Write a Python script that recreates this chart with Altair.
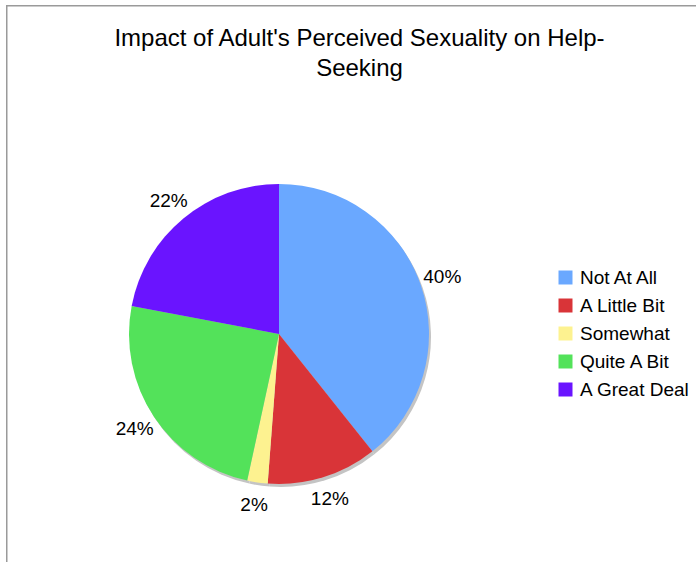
import altair as alt
import pandas as pd

categories = ["Not At All", "A Little Bit", "Somewhat", "Quite A Bit", "A Great Deal"]
values = [39.3, 11.9, 2.2, 24.6, 22.0]
labels = ["40%", "12%", "2%", "24%", "22%"]
colors = ["#6aa8ff", "#d93438", "#fdf290", "#53e25a", "#6a14ff"]
title_lines = ["Impact of Adult's Perceived Sexuality on Help-", "Seeking"]

FONT = "Liberation Sans"
W, H = 690, 557
CX, CY = 273, 329
R = 150

df = pd.DataFrame({
    "category": categories,
    "value": values,
    "label": labels,
    "order": list(range(len(categories))),
})
one = pd.DataFrame({"k": [0]})

base = alt.Chart(df)
theta = alt.Theta("value:Q", stack=True)
order = alt.Order("order:Q")

shadow = base.mark_arc(outerRadius=R, color="#c4c4c4").encode(
    theta=theta, order=order, x=alt.value(CX + 2), y=alt.value(CY + 3)
)

pie = base.mark_arc(outerRadius=R).encode(
    theta=theta,
    order=order,
    x=alt.value(CX),
    y=alt.value(CY),
    color=alt.Color(
        "category:N",
        sort=categories,
        scale=alt.Scale(domain=categories, range=colors),
        legend=alt.Legend(
            title=None,
            orient="none",
            legendX=550,
            legendY=263,
            symbolType="square",
            symbolSize=196,
            symbolStrokeWidth=0,
            labelFontSize=19,
            labelFont=FONT,
            labelColor="black",
            labelOffset=5,
            rowPadding=8,
            padding=0,
            labelLimit=300,
        ),
    ),
)

text = base.mark_text(radius=173, fontSize=19, font=FONT, color="black").encode(
    theta=theta, order=order, x=alt.value(CX), y=alt.value(CY), text="label:N"
)

title = alt.Chart(one).mark_text(
    text=title_lines, fontSize=24, font=FONT, color="black",
    align="center", baseline="alphabetic", lineHeight=30,
).encode(x=alt.value(353.5), y=alt.value(41))

top_border = alt.Chart(one).mark_rule(color="#9a9a9a", strokeWidth=1.5).encode(
    x=alt.value(0), x2=alt.value(W), y=alt.value(0.75)
)
left_border = alt.Chart(one).mark_rule(color="#9a9a9a", strokeWidth=1.5).encode(
    x=alt.value(0.75), y=alt.value(0), y2=alt.value(H)
)

chart = alt.layer(top_border, left_border, shadow, pie, text, title).properties(
    width=W,
    height=H,
    padding={"left": 6, "top": 5, "right": 0, "bottom": 0},
    autosize=alt.AutoSizeParams(type="none"),
    background="white",
).configure_view(stroke=None)

chart.save("out.html", embed_options={"renderer": "svg", "actions": False})
